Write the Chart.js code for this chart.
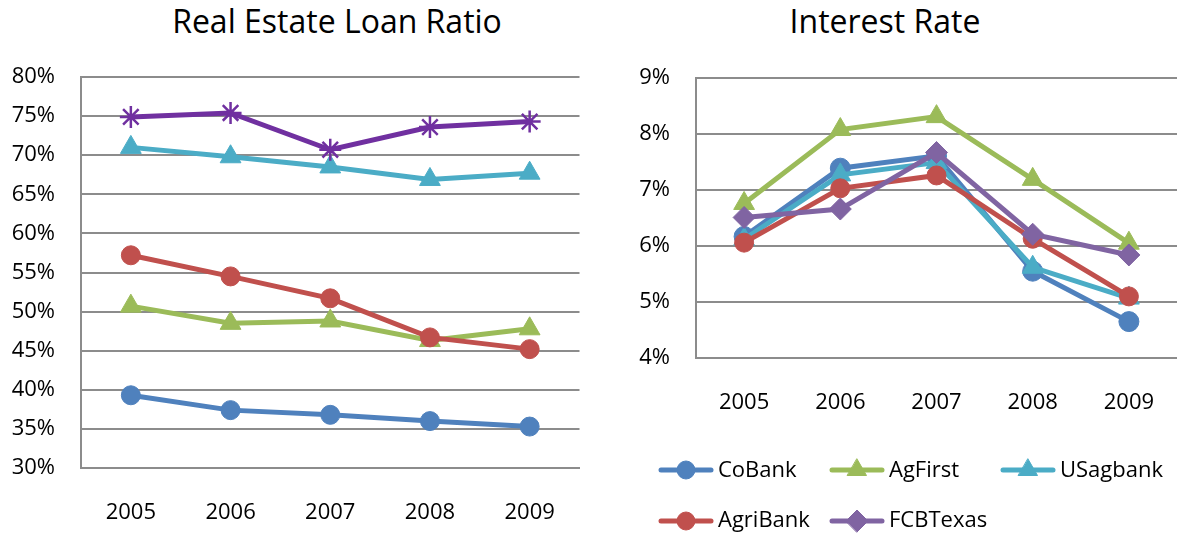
<!DOCTYPE html>
<html>
<head>
<meta charset="utf-8">
<script src="https://cdn.jsdelivr.net/npm/chart.js@4.4.1/dist/chart.umd.min.js"></script>
<style>
  body { margin: 0; background: #fff; width: 1177px; height: 533px; position: relative; overflow: hidden; font-family: "Open Sans", sans-serif; }
  .title { position: absolute; top: -1px; width: 400px; text-align: center; font-size: 32px; line-height: 44px; color: #000; }
  #loanChart { position: absolute; left: 0; top: 0; }
  #rateChart { position: absolute; left: 600px; top: 0; }
</style>
</head>
<body>
<div class="title" style="left:137px">Real Estate Loan Ratio</div>
<div class="title" style="left:685px">Interest Rate</div>
<canvas id="loanChart" width="593" height="533"></canvas>
<canvas id="rateChart" width="590" height="533"></canvas>
<script>
// categories and series
var years = ['2005', '2006', '2007', '2008', '2009'];
var banks = ['CoBank', 'AgFirst', 'USagbank', 'AgriBank', 'FCBTexas'];

// real estate loan ratio, %
var loanCoBank   = [39.3, 37.4, 36.8, 36.0, 35.3];
var loanAgFirst  = [50.7, 48.5, 48.8, 46.3, 47.8];
var loanUSagbank = [71.0, 69.8, 68.5, 66.9, 67.7];
var loanAgriBank = [57.2, 54.5, 51.7, 46.7, 45.2];
var loanFCBTexas = [74.9, 75.4, 70.7, 73.6, 74.3];

// interest rate, %
var rateCoBank   = [6.17, 7.39, 7.61, 5.55, 4.65];
var rateAgFirst  = [6.76, 8.08, 8.31, 7.19, 6.05];
var rateUSagbank = [6.12, 7.27, 7.49, 5.62, 5.07];
var rateAgriBank = [6.06, 7.03, 7.26, 6.13, 5.10];
var rateFCBTexas = [6.51, 6.66, 7.67, 6.21, 5.84];

var FONT = '"Open Sans", sans-serif';
var GRID = '#8c8c8c';

function series(label, data, color, style, radius, i) {
  return {
    label: label,
    data: data,
    borderColor: color,
    backgroundColor: color,
    borderWidth: 5,
    pointStyle: style,
    pointRadius: radius,
    pointHoverRadius: radius,
    pointBorderWidth: style === 'star' ? 2.5 : 1,
    pointBackgroundColor: color,
    pointBorderColor: color,
    tension: 0,
    fill: false,
    order: 10 - i   // later series on top, like the original
  };
}

function options(yMin, yMax, yWidth, topPad, xHeight) {
  return {
    responsive: false,
    animation: false,
    layout: { padding: { top: topPad, left: 0, right: 0, bottom: 0 } },
    plugins: { legend: { display: false }, tooltip: { enabled: false } },
    scales: {
      x: {
        offset: true,
        grid: { display: false, drawTicks: false },
        border: { display: true, color: GRID, width: 2 },
        ticks: { padding: 32, color: '#000', font: { family: FONT, size: 22 } },
        afterFit: function (s) { s.height = xHeight; }
      },
      y: {
        min: yMin,
        max: yMax,
        grid: { color: GRID, lineWidth: 2, drawTicks: false },
        border: { display: true, color: GRID, width: 2 },
        ticks: {
          stepSize: yMin < 10 ? 1 : 5,
          padding: 26,
          color: '#000',
          font: { family: FONT, size: 22 },
          callback: function (v) { return v + '%'; }
        },
        afterFit: function (s) { s.width = yWidth; }
      }
    }
  };
}

// legend grid under the interest rate chart
var bankLegend = {
  id: 'bankLegend',
  afterDraw: function (chart) {
    var ctx = chart.ctx;
    var cols = [59, 230, 401];
    var marks = [470, 521];
    var bases = [477, 527];
    chart.data.datasets.forEach(function (ds, i) {
      var x = cols[i % 3];
      var r = Math.floor(i / 3);
      var y = marks[r];
      ctx.save();
      ctx.strokeStyle = ds.borderColor;
      ctx.lineWidth = 5;
      ctx.lineCap = 'round';
      ctx.beginPath();
      ctx.moveTo(x + 2, y);
      ctx.lineTo(x + 52, y);
      ctx.stroke();
      ctx.fillStyle = ds.borderColor;
      ctx.lineWidth = 1;
      Chart.helpers.drawPoint(ctx, { pointStyle: ds.pointStyle, radius: ds.pointStyle === 'circle' ? 9 : 11, borderWidth: 1, rotation: 0 }, x + 27, y);
      ctx.fillStyle = '#000';
      ctx.font = '22px ' + FONT;
      ctx.textAlign = 'left';
      ctx.textBaseline = 'alphabetic';
      ctx.fillText(ds.label, x + 59, bases[r]);
      ctx.restore();
    });
  }
};

new Chart(document.getElementById('loanChart'), {
  type: 'line',
  data: {
    labels: years,
    datasets: [
      series(banks[0], loanCoBank, '#4F81BD', 'circle', 9.5, 0),
      series(banks[1], loanAgFirst, '#9BBB59', 'triangle', 12, 1),
      series(banks[2], loanUSagbank, '#4BACC6', 'triangle', 12, 2),
      series(banks[3], loanAgriBank, '#C0504D', 'circle', 9.5, 3),
      series(banks[4], loanFCBTexas, '#7030A0', 'star', 11, 4)
    ]
  },
  options: options(30, 80, 81, 77, 65)
});

new Chart(document.getElementById('rateChart'), {
  type: 'line',
  data: {
    labels: years,
    datasets: [
      series(banks[0], rateCoBank, '#4F81BD', 'circle', 10, 0),
      series(banks[1], rateAgFirst, '#9BBB59', 'triangle', 12, 1),
      series(banks[2], rateUSagbank, '#4BACC6', 'triangle', 12, 2),
      series(banks[3], rateAgriBank, '#C0504D', 'circle', 9.5, 3),
      series(banks[4], rateFCBTexas, '#8064A2', 'rectRot', 11, 4)
    ]
  },
  options: options(4, 9, 96, 78, 175),
  plugins: [bankLegend]
});
</script>
</body>
</html>
